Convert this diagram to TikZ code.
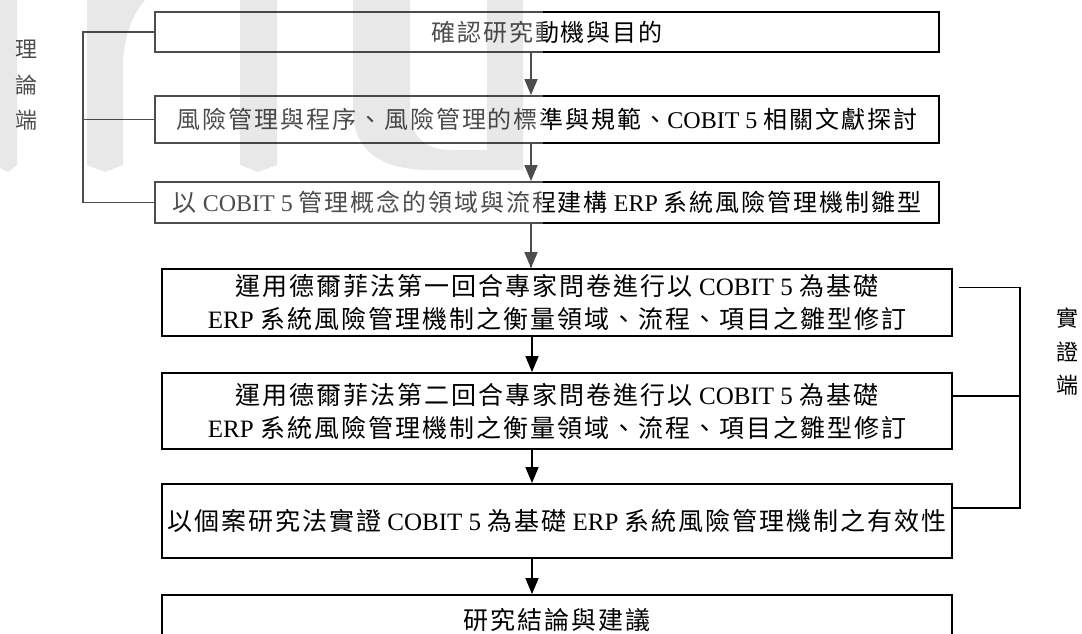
\documentclass[tikz,border=0pt]{standalone}
\usepackage{fontspec}
\setmainfont{Liberation Serif}
\newfontfamily\cjk[LetterSpace=8]{Noto Sans CJK TC}
\newfontfamily\cjklab{Noto Sans CJK TC}
\usetikzlibrary{arrows.meta,calc}
\newcommand\upfont{\fontsize{24}{33}\selectfont}
\newcommand\lowfont{\fontsize{25}{33}\selectfont}
\newcommand\labtxt[1]{{\fontsize{22}{22}\selectfont\cjklab #1}}
\begin{document}
\begin{tikzpicture}[x=1pt,y=-1pt,
  box/.style={draw, line width=1.8pt, inner sep=0pt, align=center},
  upbox/.style={box, minimum width=784pt, font=\upfont},
  lowbox/.style={box, minimum width=790pt, font=\lowfont},
  arr/.style={line width=1.6pt, -{Triangle[length=16pt,width=13pt]}},
  link/.style={line width=1.6pt},
  lab/.style={inner sep=0pt},
  wm/.style={fill=black, opacity=0.09}]
\useasboundingbox (0,0) rectangle (1082,634);
\clip (0,0) rectangle (1082,634);
% boxes
\node[upbox, minimum height=40pt] (b1) at (547,32) {{\cjk 確認研究動機與目的}};
\node[upbox, minimum height=47pt] (b2) at (547,119.5) {{\cjk 風險管理與程序、風險管理的標準與規範、}COBIT 5 {\cjk 相關文獻探討}};
\node[upbox, minimum height=41pt] (b3) at (547,202.5) {{\cjk 以} COBIT 5 {\cjk 管理概念的領域與流程建構} ERP {\cjk 系統風險管理機制雛型}};
\node[lowbox, minimum height=67pt] (b4) at (557,302.5) {{\cjk 運用德爾菲法第一回合專家問卷進行以} COBIT 5 {\cjk 為基礎}\\ERP {\cjk 系統風險管理機制之衡量領域、流程、項目之雛型修訂}};
\node[lowbox, minimum height=76pt] (b5) at (557,411) {{\cjk 運用德爾菲法第二回合專家問卷進行以} COBIT 5 {\cjk 為基礎}\\ERP {\cjk 系統風險管理機制之衡量領域、流程、項目之雛型修訂}};
\node[lowbox, minimum height=74pt] (b6) at (557,521) {{\cjk 以個案研究法實證} COBIT 5 {\cjk 為基礎} ERP {\cjk 系統風險管理機制之有效性}};
\node[lowbox, minimum height=50pt] (b7) at (557,620) {{\cjk 研究結論與建議}};
% arrows
\coordinate (ax) at (531,0);
\coordinate (ax2) at (532,0);
\draw[arr] (b1.south -| ax) -- (b2.north -| ax);
\draw[arr] (b2.south -| ax) -- (b3.north -| ax);
\draw[arr] (b3.south -| ax) -- (b4.north -| ax);
\draw[arr] (b4.south -| ax2) -- (b5.north -| ax2);
\draw[arr] (b5.south -| ax2) -- (b6.north -| ax2);
\draw[arr] (b6.south -| ax2) -- (b7.north -| ax2);
% left bracket
\coordinate (lb) at (83,0);
\draw[link] (b1.west) -- (b1.west -| lb) -- (b3.west -| lb) -- (b3.west);
\draw[link] (b2.west) -- (b2.west -| lb);
% right bracket
\coordinate (rb) at (1020,0);
\coordinate (r4) at ($(b4.east)+(6,-15)$);
\coordinate (r5) at ($(b5.east)+(0,-15)$);
\coordinate (r6) at ($(b6.east)+(0,-13)$);
\draw[link] (r4) -- (r4 -| rb) -- (r6 -| rb) -- (r6);
\draw[link] (r5) -- (r5 -| rb);
% labels
\node[lab] (l1) at (26,49) {\labtxt{理}};
\node[lab] (l2) at (26,85) {\labtxt{論}};
\node[lab] (l3) at (26,120) {\labtxt{端}};
\node[lab] (m1) at (1067,318) {\labtxt{實}};
\node[lab] (m2) at (1067,352) {\labtxt{證}};
\node[lab] (m3) at (1067,385) {\labtxt{端}};
% watermark
\fill[white, opacity=0.3] (0,0) rectangle (543,266);
\fill[wm] (0,0) -- (17,0) -- (17,165) -- (8,172) -- (0,168) -- cycle;
\fill[wm] (87,0) -- (145,0) .. controls (132,15) and (125,35) .. (123,60) -- (123,165) -- (105,172) -- (87,165) -- cycle;
\fill[wm] (240,0) -- (277,0) -- (277,165) -- (258,172) -- (240,165) -- cycle;
\fill[wm] (353,0) -- (353,110) .. controls (353,150) and (380,170) .. (430,170) -- (523,170) -- (523,0) -- (487,0) -- (487,150) -- (450,150) .. controls (425,150) and (410,135) .. (410,110) -- (410,0) -- cycle;
\end{tikzpicture}
\end{document}
